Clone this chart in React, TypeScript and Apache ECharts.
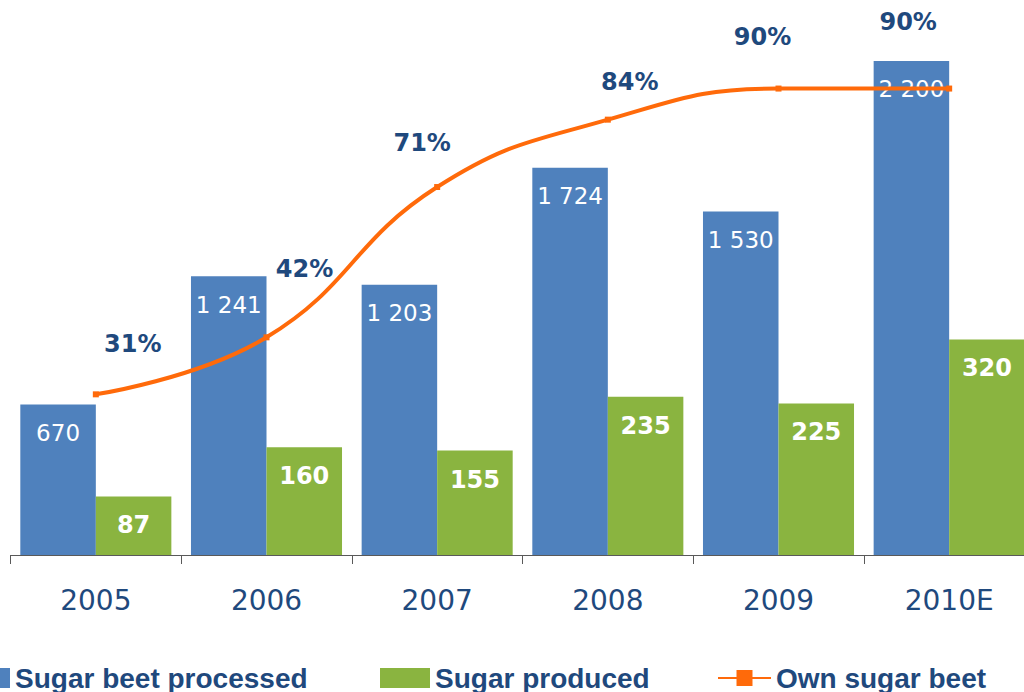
import React, { useEffect, useRef } from "react";
import * as echarts from "echarts";

const categories = ["2005", "2006", "2007", "2008", "2009", "2010E"];
const beetProcessed = [670, 1241, 1203, 1724, 1530, 2200];
const sugarProduced = [87, 160, 155, 235, 225, 320];
const ownBeetPct = [31, 42, 71, 84, 90, 90];

const pctLabelOffsets = [
  [37, -30],
  [38, -48],
  [-15, -24],
  [22, -18],
  [-16, -32],
  [-41, -47],
];

const BLUE = "#4F81BD";
const GREEN = "#8AB440";
const ORANGE = "#FF6A0A";
const TEXT = "#1F497D";

const fmtThousands = (v: number) =>
  String(v).replace(/\B(?=(\d{3})+(?!\d))/g, " ");

export default function App() {
  const ref = useRef<HTMLDivElement>(null);

  useEffect(() => {
    if (!ref.current) return;
    const chart = echarts.init(ref.current, undefined, { renderer: "svg" });
    const legendText = {
      color: TEXT,
      fontFamily: "'Liberation Sans', Arial, sans-serif",
      fontWeight: "bold" as const,
      fontSize: 28,
      lineHeight: 30,
    };
    chart.setOption({
      animation: false,
      backgroundColor: "#ffffff",
      grid: {
        left: 10.5,
        width: 1024,
        top: 16,
        bottom: 137,
        containLabel: false,
        outerBoundsMode: "none",
      },
      legend: [
        {
          data: [{ name: "Sugar beet processed", icon: "rect" }],
          left: -40,
          top: 663,
          padding: 0,
          itemWidth: 50,
          itemHeight: 20,
          itemGap: 0,
          textStyle: legendText,
        },
        {
          data: [{ name: "Sugar produced", icon: "rect" }],
          left: 380,
          top: 663,
          padding: 0,
          itemWidth: 50,
          itemHeight: 20,
          textStyle: legendText,
        },
        {
          data: ["Own sugar beet"],
          left: 717,
          top: 663,
          padding: 0,
          itemWidth: 53,
          itemHeight: 20,
          textStyle: legendText,
        },
      ],
      xAxis: {
        type: "category",
        data: categories,
        axisLine: { show: true, lineStyle: { color: "#595959", width: 1 } },
        axisTick: { show: true, length: 9, lineStyle: { color: "#595959" } },
        axisLabel: {
          color: TEXT,
          fontSize: 28,
          fontFamily: "'DejaVu Sans', Verdana, sans-serif",
          margin: 31,
        },
      },
      yAxis: [
        { type: "value", min: 0, max: 2400, show: false, splitLine: { show: false } },
        { type: "value", min: 0, max: 800, show: false, splitLine: { show: false } },
        { type: "value", min: 0, max: 104, show: false, splitLine: { show: false } },
      ],
      series: [
        {
          name: "Sugar beet processed",
          type: "bar",
          yAxisIndex: 0,
          data: beetProcessed,
          barGap: "0%",
          barCategoryGap: "11.5%",
          itemStyle: { color: BLUE },
          label: {
            show: true,
            position: "insideTop",
            distance: 17,
            color: "#ffffff",
            fontSize: 23,
            fontFamily: "'DejaVu Sans', Verdana, sans-serif",
            formatter: (p: any) => fmtThousands(p.value),
          },
        },
        {
          name: "Sugar produced",
          type: "bar",
          yAxisIndex: 1,
          data: sugarProduced,
          barGap: "0%",
          barCategoryGap: "11.5%",
          itemStyle: { color: GREEN },
          label: {
            show: true,
            position: "insideTop",
            distance: 17,
            color: "#ffffff",
            fontSize: 24,
            fontWeight: "bold",
            fontFamily: "'DejaVu Sans', Verdana, sans-serif",
          },
        },
        {
          name: "Own sugar beet",
          type: "line",
          yAxisIndex: 2,
          smooth: 0.45,
          symbol: "rect",
          symbolSize: 6,
          z: 5,
          itemStyle: { color: ORANGE },
          lineStyle: { color: ORANGE, width: 4 },
          data: ownBeetPct.map((v, i) => ({
            value: v,
            label: { offset: pctLabelOffsets[i] },
          })),
          label: {
            show: true,
            position: "top",
            distance: 5,
            color: TEXT,
            fontSize: 24,
            fontWeight: "bold",
            fontFamily: "'DejaVu Sans', Verdana, sans-serif",
            formatter: "{c}%",
          },
        },
      ],
    });
    return () => chart.dispose();
  }, []);

  return (
    <div
      ref={ref}
      style={{ position: "fixed", left: 0, top: 0, width: 1024, height: 692 }}
    />
  );
}
